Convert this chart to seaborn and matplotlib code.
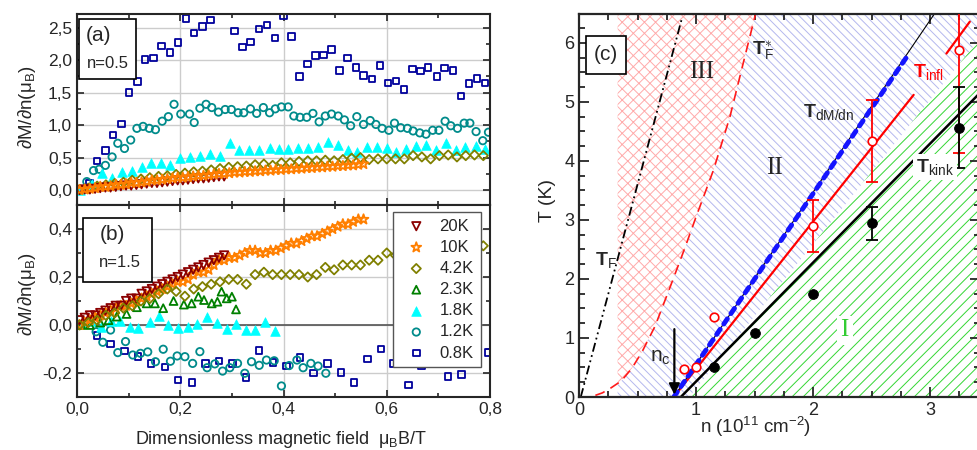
import pandas as pd
import matplotlib
matplotlib.use('Agg')
import matplotlib.pyplot as plt
import seaborn as sns
from matplotlib.ticker import FuncFormatter, MultipleLocator
from matplotlib.patches import Rectangle

sns.set_style('ticks')
plt.rcParams['font.family'] = ['Liberation Sans', 'DejaVu Sans']
plt.rcParams['mathtext.fontset'] = 'custom'
plt.rcParams['mathtext.rm'] = 'Liberation Sans'
plt.rcParams['mathtext.it'] = 'Liberation Sans:italic'
plt.rcParams['mathtext.bf'] = 'Liberation Sans:bold'
plt.rcParams['hatch.linewidth'] = 0.7

# ---------------- panel (a): n=0.5 ----------------
x_08a = [0.006, 0.024, 0.039, 0.055, 0.070, 0.086, 0.101, 0.117, 0.132, 0.148,
         0.164, 0.180, 0.196, 0.211, 0.227, 0.243, 0.259, 0.274, 0.290, 0.305,
         0.321, 0.336, 0.353, 0.368, 0.384, 0.400, 0.415, 0.431, 0.446, 0.462,
         0.477, 0.493, 0.508, 0.524, 0.540, 0.555, 0.571, 0.587, 0.602, 0.618,
         0.633, 0.650, 0.665, 0.680, 0.697, 0.712, 0.728, 0.744, 0.759, 0.775, 0.790]
y_08a = [0.01, 0.11, 0.45, 0.61, 0.85, 1.02, 1.50, 1.67, 2.01, 2.03,
         2.22, 2.12, 2.27, 2.64, 2.42, 2.52, 2.62, 2.80, 2.85, 2.45,
         2.20, 2.28, 2.48, 2.54, 2.34, 2.68, 2.36, 1.75, 1.94, 2.07,
         2.08, 2.16, 1.84, 2.03, 1.89, 1.76, 1.71, 1.92, 1.65, 1.68,
         1.55, 1.86, 1.83, 1.89, 1.75, 1.88, 1.84, 1.45, 1.64, 1.72, 1.65]

x_12a = [0.005, 0.019, 0.032, 0.043, 0.055, 0.068, 0.079, 0.092, 0.104, 0.116,
         0.128, 0.140, 0.152, 0.165, 0.177, 0.188, 0.201, 0.218, 0.227, 0.238,
         0.250, 0.261, 0.274, 0.287, 0.299, 0.312, 0.323, 0.336, 0.348, 0.361,
         0.373, 0.384, 0.396, 0.409, 0.420, 0.432, 0.445, 0.457, 0.469, 0.481,
         0.493, 0.506, 0.518, 0.530, 0.542, 0.555, 0.568, 0.579, 0.591, 0.604,
         0.615, 0.627, 0.640, 0.651, 0.664, 0.676, 0.689, 0.701, 0.713, 0.724,
         0.737, 0.750, 0.761, 0.773, 0.786, 0.797]
y_12a = [0.00, 0.13, 0.30, 0.32, 0.38, 0.51, 0.72, 0.64, 0.77, 0.95,
         0.98, 0.95, 0.93, 1.06, 1.13, 1.32, 1.17, 1.17, 1.04, 1.26,
         1.32, 1.27, 1.20, 1.24, 1.24, 1.19, 1.19, 1.25, 1.18, 1.27,
         1.19, 1.25, 1.28, 1.28, 1.14, 1.12, 1.12, 1.18, 1.05, 1.14,
         1.17, 1.14, 1.08, 0.99, 1.13, 1.01, 1.07, 1.01, 0.95, 0.92,
         1.03, 0.96, 0.95, 0.91, 0.88, 0.86, 0.92, 0.92, 1.06, 0.99,
         0.95, 1.03, 1.03, 0.90, 0.76, 0.89]

x_18a = [0.005, 0.029, 0.048, 0.067, 0.087, 0.106, 0.125, 0.143, 0.162, 0.181,
         0.200, 0.219, 0.238, 0.258, 0.277, 0.296, 0.314, 0.334, 0.353, 0.373,
         0.391, 0.409, 0.429, 0.448, 0.467, 0.486, 0.505, 0.524, 0.543, 0.562,
         0.581, 0.600, 0.618, 0.637, 0.657, 0.676, 0.695, 0.714, 0.734, 0.752,
         0.772, 0.791]
y_18a = [0.00, 0.10, 0.26, 0.18, 0.28, 0.30, 0.36, 0.41, 0.41, 0.38,
         0.49, 0.51, 0.52, 0.55, 0.52, 0.72, 0.61, 0.61, 0.62, 0.65,
         0.63, 0.63, 0.64, 0.65, 0.67, 0.74, 0.69, 0.62, 0.59, 0.67,
         0.67, 0.65, 0.59, 0.63, 0.68, 0.69, 0.62, 0.73, 0.62, 0.66,
         0.68, 0.63]

x_42 = [0.005, 0.022, 0.039, 0.056, 0.073, 0.090, 0.107, 0.124, 0.141, 0.158,
        0.175, 0.192, 0.209, 0.226, 0.243, 0.260, 0.277, 0.294, 0.311, 0.328,
        0.345, 0.362, 0.379, 0.396, 0.413, 0.430, 0.447, 0.464, 0.481, 0.498,
        0.515, 0.532, 0.549, 0.566, 0.583, 0.600, 0.617, 0.634, 0.651, 0.668,
        0.685, 0.702, 0.719, 0.736, 0.753, 0.770, 0.787]
y_42a = [0.01, 0.03, 0.06, 0.08, 0.10, 0.12, 0.15, 0.17, 0.19, 0.21,
         0.22, 0.24, 0.26, 0.28, 0.29, 0.31, 0.33, 0.35, 0.36, 0.37,
         0.39, 0.40, 0.38, 0.42, 0.42, 0.44, 0.45, 0.45, 0.46, 0.45,
         0.47, 0.49, 0.50, 0.47, 0.48, 0.48, 0.48, 0.48, 0.53, 0.51,
         0.48, 0.53, 0.54, 0.51, 0.53, 0.54, 0.53]

x_10k = [0.005, 0.015, 0.025, 0.035, 0.045, 0.055, 0.065, 0.075, 0.085, 0.095,
         0.105, 0.115, 0.125, 0.135, 0.145, 0.155, 0.165, 0.175, 0.185, 0.195,
         0.205, 0.215, 0.225, 0.235, 0.245, 0.255, 0.265, 0.275, 0.285, 0.295,
         0.305, 0.315, 0.325, 0.335, 0.345, 0.355, 0.365, 0.375, 0.385, 0.395,
         0.405, 0.415, 0.425, 0.435, 0.445, 0.455, 0.465, 0.475, 0.485, 0.495,
         0.505, 0.515, 0.525, 0.535, 0.545, 0.555]
y_10a = [0.00, 0.01, 0.02, 0.03, 0.05, 0.05, 0.06, 0.08, 0.08, 0.09,
         0.11, 0.11, 0.12, 0.13, 0.15, 0.15, 0.16, 0.17, 0.18, 0.19,
         0.19, 0.20, 0.21, 0.22, 0.22, 0.23, 0.24, 0.25, 0.25, 0.26,
         0.27, 0.27, 0.28, 0.28, 0.29, 0.29, 0.30, 0.30, 0.31, 0.31,
         0.32, 0.32, 0.33, 0.33, 0.34, 0.34, 0.35, 0.35, 0.36, 0.36,
         0.37, 0.37, 0.38, 0.38, 0.39, 0.40]

x_20k = [0.005, 0.015, 0.025, 0.035, 0.045, 0.055, 0.065, 0.075, 0.085, 0.095,
         0.105, 0.115, 0.125, 0.135, 0.145, 0.155, 0.165, 0.175, 0.185, 0.195,
         0.205, 0.215, 0.225, 0.235, 0.245, 0.255, 0.265, 0.275, 0.285]
y_20a = [0.00, 0.01, 0.01, 0.02, 0.03, 0.04, 0.04, 0.05, 0.06, 0.07,
         0.07, 0.08, 0.09, 0.10, 0.11, 0.11, 0.12, 0.13, 0.14, 0.15,
         0.15, 0.16, 0.17, 0.18, 0.18, 0.19, 0.20, 0.21, 0.21]

# ---------------- panel (b): n=1.5 ----------------
y_20b = [0.02, 0.03, 0.04, 0.04, 0.05, 0.06, 0.07, 0.08, 0.08, 0.10,
         0.11, 0.11, 0.13, 0.14, 0.15, 0.16, 0.17, 0.18, 0.19, 0.20,
         0.21, 0.22, 0.23, 0.24, 0.25, 0.26, 0.27, 0.28, 0.29]
y_10b = [0.00, 0.01, 0.02, 0.03, 0.04, 0.05, 0.06, 0.07, 0.08, 0.08,
         0.09, 0.10, 0.11, 0.12, 0.13, 0.14, 0.15, 0.16, 0.17, 0.18,
         0.18, 0.19, 0.21, 0.22, 0.22, 0.23, 0.25, 0.27, 0.27, 0.28,
         0.28, 0.29, 0.30, 0.31, 0.31, 0.30, 0.30, 0.31, 0.31, 0.32,
         0.33, 0.34, 0.34, 0.35, 0.36, 0.37, 0.37, 0.38, 0.39, 0.40,
         0.41, 0.42, 0.42, 0.43, 0.44, 0.44]
y_42b = [0.00, 0.01, 0.02, 0.04, 0.05, 0.07, 0.08, 0.10, 0.11, 0.13,
         0.15, 0.14, 0.12, 0.15, 0.16, 0.17, 0.18, 0.19, 0.19, 0.17,
         0.21, 0.22, 0.21, 0.21, 0.21, 0.21, 0.20, 0.21, 0.24, 0.23,
         0.25, 0.25, 0.25, 0.27, 0.27, 0.30, 0.29, 0.29, 0.30, 0.30,
         0.31, 0.31, 0.32, 0.32, 0.32, 0.33, 0.33]
x_23b = [0.008, 0.025, 0.045, 0.061, 0.077, 0.096, 0.116, 0.135, 0.151, 0.167,
         0.187, 0.207, 0.222, 0.235, 0.246, 0.261, 0.272, 0.280, 0.290, 0.300, 0.308]
y_23b = [0.00, 0.00, 0.01, 0.02, 0.035, 0.046, 0.074, 0.09, 0.09, 0.07,
         0.10, 0.085, 0.09, 0.118, 0.104, 0.09, 0.097, 0.139, 0.111, 0.118, 0.065]
x_18b = [0.010, 0.027, 0.046, 0.066, 0.084, 0.102, 0.119, 0.141, 0.158, 0.176,
         0.195, 0.215, 0.233, 0.251, 0.271, 0.290, 0.308, 0.327, 0.345, 0.365, 0.383]
y_18b = [0.010, 0.018, -0.007, 0.018, 0.018, -0.010, -0.014, 0.014, 0.038, 0.000,
         -0.014, -0.010, 0.004, 0.032, 0.007, -0.018, 0.004, -0.021, -0.021, 0.011, -0.024]
x_12b = [0.037, 0.050, 0.065, 0.079, 0.094, 0.108, 0.123, 0.137, 0.152, 0.167,
         0.181, 0.194, 0.209, 0.224, 0.238, 0.252, 0.267, 0.282, 0.296, 0.311,
         0.325, 0.338, 0.353, 0.367, 0.382, 0.396, 0.411, 0.426, 0.438, 0.453,
         0.467, 0.482]
y_12b = [-0.028, -0.072, -0.021, -0.115, -0.069, -0.125, -0.118, -0.112, -0.153, -0.101,
         -0.151, -0.129, -0.132, -0.160, -0.111, -0.178, -0.162, -0.192, -0.178, -0.160,
         -0.201, -0.153, -0.168, -0.146, -0.149, -0.254, -0.169, -0.146, -0.178, -0.160,
         -0.171, -0.201]
x_08b = [0.039, 0.065, 0.092, 0.118, 0.143, 0.170, 0.196, 0.223, 0.249, 0.275,
         0.301, 0.327, 0.353, 0.380, 0.406, 0.432, 0.458, 0.485, 0.511, 0.537,
         0.563, 0.589, 0.613, 0.642, 0.667, 0.693, 0.719, 0.745, 0.771, 0.797]
y_08b = [-0.044, -0.080, -0.108, -0.132, -0.160, -0.176, -0.229, -0.239, -0.160, -0.149,
         -0.160, -0.218, -0.107, -0.157, -0.170, -0.135, -0.201, -0.160, -0.198, -0.240,
         -0.141, -0.099, -0.160, -0.249, -0.170, -0.150, -0.214, -0.207, -0.150, -0.114]

# ---------------- panel (c): phase diagram ----------------
tf_n, tf_T = [0.015, 0.88], [0.0, 6.42]                      # T_F
tfs_n = [0.0, 0.1, 0.2, 0.27, 0.33, 0.36, 0.45, 0.54, 0.65, 0.78,
         0.9, 1.0, 1.15, 1.29, 1.40, 1.51]                    # T_F*
tfs_T = [0.0, 0.0, 0.07, 0.15, 0.23, 0.27, 0.48, 0.77, 1.2, 1.87,
         2.5, 3.05, 3.85, 4.75, 5.63, 6.5]
dmdn_n, dmdn_T = [0.81, 3.04], [0.0, 6.5]                    # T_dM/dn
dmdn_blue_n, dmdn_blue_T = [0.81, 2.80], [0.0, 5.76]
infl_n, infl_T = [0.81, 2.86], [0.0, 5.12]                   # T_infl
infl2_n, infl2_T = [3.14, 3.34], [5.82, 6.36]
kink_n, kink_T = [0.87, 3.45], [0.0, 5.2]                    # T_kink
green_n, green_T = [0.94, 3.6], [0.0, 6.5]                   # edge of region I
n_left = 0.33                                                # left edge of hatched regions

infl_pts_n = [0.90, 1.0, 1.15, 2.0, 2.5, 3.25]
infl_pts_T = [0.47, 0.50, 1.36, 2.90, 4.34, 5.88]
infl_err_lo = [0, 0, 0, 0.44, 0.69, 1.75]
infl_err_hi = [0, 0, 0, 0.44, 0.69, 1.00]
kink_pts_n = [1.15, 1.5, 2.0, 2.5, 3.25]
kink_pts_T = [0.51, 1.08, 1.74, 2.95, 4.56]
kink_err_lo = [0, 0, 0, 0.29, 0.68]
kink_err_hi = [0, 0, 0, 0.27, 0.69]

styles = {
    '20K': dict(m='v', c='#8b0000', fill=False, s=36),
    '10K': dict(m='*', c='#ff7f00', fill=False, s=55),
    '4.2K': dict(m='D', c='#808000', fill=False, s=22),
    '2.3K': dict(m='^', c='#008000', fill=False, s=32),
    '1.8K': dict(m='^', c='#00ffff', fill=True, s=48),
    '1.2K': dict(m='o', c='#008b8b', fill=False, s=28),
    '0.8K': dict(m='s', c='#00009c', fill=False, s=22),
}


def draw(ax, xs, ys, key, label=None):
    st = styles[key]
    df = pd.DataFrame({'x': xs, 'y': ys})
    if st['fill']:
        sns.scatterplot(data=df, x='x', y='y', ax=ax, marker=st['m'], s=st['s'],
                        color=st['c'], edgecolor=st['c'], linewidth=0.5, label=label)
    else:
        sns.scatterplot(data=df, x='x', y='y', ax=ax, marker=st['m'], s=st['s'],
                        color=st['c'], facecolor='none', edgecolor=st['c'],
                        linewidth=1.3, label=label)


def comma(v, pos):
    v = round(v, 1) + 0.0
    return f'{v:.1f}'.replace('.', ',')


fig = plt.figure(figsize=(9.78, 4.5), dpi=100)
ax_a = fig.add_axes([77 / 978, 1 - 205 / 450, 413 / 978, 191 / 450])
ax_b = fig.add_axes([77 / 978, 1 - 397 / 450, 413 / 978, 192 / 450])
ax_c = fig.add_axes([579 / 978, 1 - 397 / 450, 401 / 978, 383 / 450])

# panel (a)
draw(ax_a, x_08a, y_08a, '0.8K')
draw(ax_a, x_12a, y_12a, '1.2K')
draw(ax_a, x_18a, y_18a, '1.8K')
draw(ax_a, x_42, y_42a, '4.2K')
draw(ax_a, x_20k, y_20a, '20K')
draw(ax_a, x_10k, y_10a, '10K')

# panel (b)
ax_b.axhline(0, color='#555555', lw=1.2, zorder=0.8)
draw(ax_b, x_08b, y_08b, '0.8K', '0.8K')
draw(ax_b, x_12b, y_12b, '1.2K', '1.2K')
draw(ax_b, x_18b, y_18b, '1.8K', '1.8K')
draw(ax_b, x_23b, y_23b, '2.3K', '2.3K')
draw(ax_b, x_10k, y_10b, '10K', '10K')
draw(ax_b, x_20k, y_20b, '20K', '20K')
draw(ax_b, x_42, y_42b, '4.2K', '4.2K')

handles, labels = ax_b.get_legend_handles_labels()
order = ['20K', '10K', '4.2K', '2.3K', '1.8K', '1.2K', '0.8K']
hmap = dict(zip(labels, handles))
ax_b.legend([hmap[k] for k in order], order, loc='upper left',
            bbox_to_anchor=(0.765, 0.964), frameon=True, fancybox=False,
            edgecolor='#555555', framealpha=1, fontsize=12, handlelength=2.0,
            handletextpad=0.4, borderpad=0.4, labelspacing=0.37, borderaxespad=0)

for ax in (ax_a, ax_b):
    ax.set_xlim(0, 0.8)
    ax.xaxis.set_major_locator(MultipleLocator(0.2))
    ax.xaxis.set_minor_locator(MultipleLocator(0.1))
    ax.xaxis.set_major_formatter(FuncFormatter(comma))
    ax.yaxis.set_major_formatter(FuncFormatter(comma))
    ax.grid(True, which='major', color='#cccccc', lw=1)
    ax.set_axisbelow(True)
    ax.tick_params(which='both', direction='in', top=True, right=True,
                   labelsize=12.5, width=1.2)
    ax.tick_params(which='major', length=5)
    ax.tick_params(which='minor', length=3)
    for sp in ax.spines.values():
        sp.set_linewidth(1.5)
    ax.set_xlabel('')
    ax.set_ylabel(r'∂M/∂n(μ$_\mathregular{B}$)', fontsize=13.5)

ax_a.set_ylim(-0.23, 2.71)
ax_a.yaxis.set_major_locator(MultipleLocator(0.5))
ax_a.yaxis.set_minor_locator(MultipleLocator(0.25))
ax_a.tick_params(labelbottom=False)
ax_a.yaxis.set_label_coords(-0.095, 0.513)

ax_b.set_ylim(-0.3, 0.5)
ax_b.yaxis.set_major_locator(MultipleLocator(0.2))
ax_b.yaxis.set_minor_locator(MultipleLocator(0.1))
ax_b.yaxis.set_label_coords(-0.095, 0.536)
ax_b.set_xlabel(r'Dimensionless magnetic field  μ$_\mathregular{B}$B/T', fontsize=13)
ax_b.xaxis.set_label_coords(0.495, -0.165)

ax_a.add_patch(Rectangle((0.005, 0.66), 0.138, 0.314, transform=ax_a.transAxes,
                         fc='white', ec='black', lw=1.2, zorder=5))
ax_a.text(0.051, 0.885, '(a)', transform=ax_a.transAxes, fontsize=15,
          ha='center', va='center', zorder=6)
ax_a.text(0.075, 0.743, 'n=0.5', transform=ax_a.transAxes, fontsize=12,
          ha='center', va='center', zorder=6)
ax_b.add_patch(Rectangle((0.0145, 0.599), 0.1675, 0.333, transform=ax_b.transAxes,
                         fc='white', ec='black', lw=1.2, zorder=5))
ax_b.text(0.087, 0.844, '(b)', transform=ax_b.transAxes, fontsize=15,
          ha='center', va='center', zorder=6)
ax_b.text(0.104, 0.703, 'n=1.5', transform=ax_b.transAxes, fontsize=12,
          ha='center', va='center', zorder=6)

# panel (c): hatched regions
ax_c.fill_between(green_n, green_T, 0, facecolor='none', edgecolor='#33d633',
                  hatch='///', linewidth=0, zorder=0.5)
iii_n = [n_left] + [n for n in tfs_n if n >= n_left] + [n_left]
iii_T = [6.5] + [t for n, t in zip(tfs_n, tfs_T) if n >= n_left] + [6.5]
ax_c.fill(iii_n, iii_T, facecolor='none', edgecolor='#ffaaaa', hatch='xxx',
          linewidth=0, zorder=0.5)
ii_n = [n_left] + [n for n in tfs_n if n >= n_left] + green_n[::-1]
ii_T = [0.0] + [t for n, t in zip(tfs_n, tfs_T) if n >= n_left] + green_T[::-1]
ax_c.fill(ii_n, ii_T, facecolor='none', edgecolor='#b4b8ee', hatch='\\\\\\\\',
          linewidth=0, zorder=0.5)

# lines
sns.lineplot(x=tf_n, y=tf_T, ax=ax_c, color='black', lw=1.3, sort=False,
             estimator=None, linestyle=(0, (5, 2, 1, 2, 1, 2)))
sns.lineplot(x=tfs_n, y=tfs_T, ax=ax_c, color='#ff1a1a', lw=1.2, sort=False,
             estimator=None, linestyle=(0, (6, 4)))
sns.lineplot(x=kink_n, y=kink_T, ax=ax_c, color='black', lw=1.8, sort=False, estimator=None)
sns.lineplot(x=infl_n, y=infl_T, ax=ax_c, color='#ff0000', lw=1.6, sort=False, estimator=None)
sns.lineplot(x=infl2_n, y=infl2_T, ax=ax_c, color='#ff0000', lw=1.6, sort=False, estimator=None)
sns.lineplot(x=dmdn_n, y=dmdn_T, ax=ax_c, color='black', lw=0.8, sort=False, estimator=None)
ln = sns.lineplot(x=dmdn_blue_n, y=dmdn_blue_T, ax=ax_c, color='#1414ff', lw=3.5,
                  sort=False, estimator=None, linestyle=(0, (1.3, 1.3)))
ln.lines[-1].set_dash_capstyle('round')

# data points with error bars
eb_i = [i for i in range(len(infl_pts_n)) if infl_err_lo[i] > 0]
ax_c.errorbar([infl_pts_n[i] for i in eb_i], [infl_pts_T[i] for i in eb_i],
              yerr=[[infl_err_lo[i] for i in eb_i], [infl_err_hi[i] for i in eb_i]],
              fmt='none', ecolor='#ff0000', elinewidth=1.3, capsize=4, capthick=1.3, zorder=3)
eb_k = [i for i in range(len(kink_pts_n)) if kink_err_lo[i] > 0]
ax_c.errorbar([kink_pts_n[i] for i in eb_k], [kink_pts_T[i] for i in eb_k],
              yerr=[[kink_err_lo[i] for i in eb_k], [kink_err_hi[i] for i in eb_k]],
              fmt='none', ecolor='black', elinewidth=1.3, capsize=4, capthick=1.3, zorder=3)
sns.scatterplot(x=infl_pts_n, y=infl_pts_T, ax=ax_c, marker='o', s=38,
                color='#ff0000', facecolor='white', edgecolor='#ff0000',
                linewidth=1.2, zorder=4)
sns.scatterplot(x=kink_pts_n, y=kink_pts_T, ax=ax_c, marker='o', s=50,
                color='black', edgecolor='black', zorder=4)

ax_c.annotate('', xy=(0.815, 0.04), xytext=(0.815, 1.15),
              arrowprops=dict(arrowstyle='-|>', color='black', lw=1.6,
                              mutation_scale=16, shrinkA=0, shrinkB=0), zorder=5)

# labels in (c)
ax_c.add_patch(Rectangle((0.06, 5.47), 0.34, 0.65, fc='white', ec='black', lw=1.2, zorder=5))
ax_c.text(0.23, 5.80, '(c)', fontsize=15, ha='center', va='center', zorder=6)
serif = ['Liberation Serif', 'DejaVu Serif']
ax_c.text(1.05, 5.5, 'III', fontsize=18, family=serif, ha='center', va='center', zorder=6)
ax_c.text(1.67, 3.88, 'II', fontsize=18, family=serif, ha='center', va='center', zorder=6)
ax_c.text(2.27, 1.13, 'I', fontsize=18, family=serif, color='#33cc33', ha='center',
          va='center', zorder=6,
          bbox=dict(boxstyle='square,pad=0.15', fc='white', ec='none'))
ax_c.text(1.48, 5.80, r'$\mathbf{T}_\mathrm{F}^{\ast}$', fontsize=14, ha='left',
          va='baseline', zorder=6)
ax_c.text(1.915, 4.75, r'$\mathbf{T}_\mathrm{dM/dn}$', fontsize=14, ha='left',
          va='baseline', zorder=6)
ax_c.text(2.855, 5.42, r'$\mathbf{T}_\mathrm{infl}$', fontsize=14, ha='left',
          va='baseline', color='#ff0000', zorder=6)
ax_c.text(2.88, 3.81, r'$\mathbf{T}_\mathrm{kink}$', fontsize=14, ha='left',
          va='baseline', zorder=6,
          bbox=dict(boxstyle='square,pad=0.15', fc='white', ec='none'))
ax_c.text(0.137, 2.24, r'$\mathbf{T}_\mathrm{F}$', fontsize=14, ha='left',
          va='baseline', zorder=6)
ax_c.text(0.61, 0.59, r'n$_\mathregular{c}$', fontsize=15, ha='left',
          va='baseline', zorder=6)

ax_c.set_xlim(0, 3.427)
ax_c.set_ylim(0, 6.49)
ax_c.xaxis.set_major_locator(MultipleLocator(1))
ax_c.xaxis.set_minor_locator(MultipleLocator(0.25))
ax_c.yaxis.set_major_locator(MultipleLocator(1))
ax_c.yaxis.set_minor_locator(MultipleLocator(0.25))
ax_c.tick_params(which='both', direction='in', top=True, right=True,
                 labelsize=13, width=1.3)
ax_c.tick_params(which='major', length=7)
ax_c.tick_params(which='minor', length=4)
for sp in ax_c.spines.values():
    sp.set_linewidth(1.6)
ax_c.set_xlabel(r'n (10$^{11}$ cm$^{-2}$)', fontsize=13.5)
ax_c.set_ylabel('T (K)', fontsize=14)
ax_c.xaxis.set_label_coords(0.44, -0.047)
ax_c.yaxis.set_label_coords(-0.057, 0.514)

fig.savefig('out.png', dpi=100)
